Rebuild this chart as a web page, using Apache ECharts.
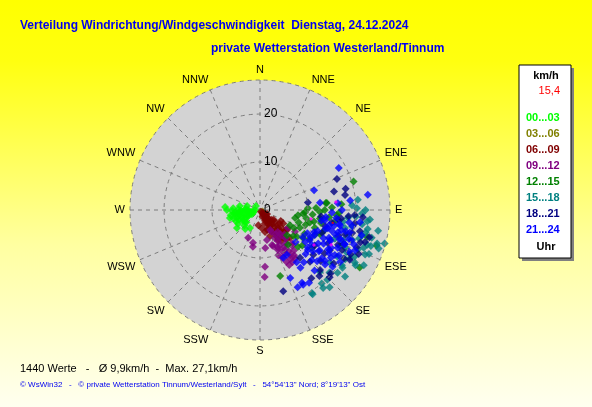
<!DOCTYPE html>
<html>
<head>
<meta charset="utf-8">
<script src="https://cdn.jsdelivr.net/npm/echarts@6/dist/echarts.min.js"></script>
<style>
  html, body { margin:0; padding:0; }
  #main { width:592px; height:407px; }
</style>
</head>
<body>
<div id="main"></div>
<script type="text/javascript">
// Himmelsrichtungen (Winkelachse)
var dirNames = ['N','NNE','NE','ENE','E','ESE','SE','SSE','S','SSW','SW','WSW','W','WNW','NW','NNW'];
// Zeitfenster (Legende)
var slotLabels = ['00...03','03...06','06...09','09...12','12...15','15...18','18...21','21...24'];
var slotColors = ['#00ff00','#808000','#800000','#800080','#008000','#008080','#000080','#0000ff'];

// Messwerte [km/h, Richtung in Grad]
var h00 = [[1.0,270],[2.1,259],[3.1,270],[4.2,264],[5.2,265],[4.1,246],[2.8,243],[5.1,251],[4.0,231],[5.4,238],
           [1.9,243],[5.6,274],[7.3,275],[6.5,255],[6.1,232],[5.0,218],[4.3,209],[6.9,270],[2.8,287],[4.3,281],
           [1.2,315],[3.5,258],[4.5,255],[2.5,262],[3.8,250],[5.0,260],[4.8,245],[3.0,248],[2.0,255],[5.8,252],[4.0,268],
           [1.5,265],[2.5,270],[3.5,265],[4.5,262],[5.5,262],[3.3,240],[4.2,238],[2.2,248],[1.5,250],[3.0,275],
           [4.5,272],[5.8,268],[6.2,260],[5.5,245],[3.8,228],[4.6,225]];
var h03 = [[0.6,120],[0.9,140],[1.2,135]];
var h06 = [[0.4,150],[1.2,149],[2.4,149],[2.4,135],[3.9,148],[3.5,135],[4.0,129],[5.4,148],[5.3,135],[4.9,118],
           [4.7,167],[3.8,174],[5.8,159],[6.8,138],[6.8,128],[7.3,149],[1.7,120],[3.2,186],[8.5,133],
           [1.8,140],[2.8,142],[3.2,130],[4.5,140],[5.8,138],[6.2,145],[4.2,155],[3.0,160],[2.0,150],[5.0,125],
           [6.0,130],[7.5,140],[0.8,130],[1.5,125],
           [1.0,140],[2.2,135],[3.0,145],[3.5,150],[4.0,143],[4.8,132],[5.5,143],[6.4,136],[7.0,133],[6.6,148],
           [7.8,145],[5.0,150],[3.5,125],[2.5,155],[1.5,160],[4.4,160],[8.2,138],[7.0,126],[5.6,120]];
var h09 = [[4.7,153],[6.6,152],[8.4,150],[9.8,148],[11.3,146],[5.9,141],[7.8,138],[9.6,136],[8.6,122],[6.9,123],
           [7.7,161],[6.4,167],[11.0,155],[12.8,148],[12.1,153],[11.9,175],[14.0,176],[6.3,203],[7.8,191],[7.0,192],
           [8.0,172],[7.0,145],[8.8,142],[10.5,150],[9.0,156],[6.0,147],[11.8,143],[12.0,148],[5.2,152],[8.0,160],[10.0,138],
           [6.5,140],[7.5,150],[8.5,155],[9.5,152],[10.5,145],[11.0,140],[12.5,144],[13.0,152],[7.2,135],[9.2,146],
           [8.0,138],[10.2,158]];
var h12 = [[20.4,73],[13.8,84],[11.7,88],[8.0,98],[25.4,107],[24.0,120],[23.0,104],[14.4,163],[7.0,117],[7.5,103],
           [9.1,114],[9.4,93],[10.7,104],[12.6,114],[10.7,123],[12.6,98],[13.5,90],[11.0,134],[15.8,99],[9.3,141],
           [13.4,126],[7.7,133],[11.0,95],[12.0,108],[9.8,100],[13.5,112],[10.5,118],[14.5,96],[16.0,94],[8.5,108],
           [9.0,95],[10.0,108],[11.5,102],[12.5,92],[13.0,102],[14.0,108],[8.0,118],[9.5,126],[11.5,130],[12.0,120],
           [15.0,88],[17.0,86],[14.0,84],[16.5,92],[10.0,88],[8.8,128]];
var h15 = [[20.5,84],[19.2,87],[20.2,89],[21.3,92],[23.0,95],[22.8,100],[25.4,106],[24.3,108],[26.9,105],[20.4,148],
           [21.7,138],[20.2,136],[20.8,129],[20.6,124],[21.3,118],[20.9,141],[20.7,148],[18.1,102],[20.2,108],[22.0,112],
           [18.2,114],[21.9,104],[16.7,111],[18.4,95],[18.2,127],[22.6,119],[23.8,113],
           [19.5,100],[21.5,106],[23.0,110],[20.0,116],[22.5,102],[18.8,121],[24.5,112],[21.0,125],[17.5,98],[19.0,106],
           [18.5,110],[19.5,114],[20.5,120],[22.0,116],[23.5,108],[24.0,104],[25.0,100],[21.5,98],[20.0,94],[22.5,96],
           [23.0,120],[22.5,128],[19.5,132],[18.0,136],[20.0,140],[24.5,118],[26.0,108],[22.0,90]];
var h18 = [[17.3,68],[18.4,76],[15.9,76],[18.0,80],[10.1,81],[22.9,107],[21.6,111],[17.6,164],[16.8,120],[18.5,106],
           [21.4,119],[17.7,135],[16.4,97],[19.8,93],[17.8,143],[20.2,134],[21.3,102],[13.0,140],[13.6,123],[19.0,116],
           [15.2,100],[17.8,114],[13.8,110],[19.8,104],[21.0,116],[16.2,124],[14.5,130],[18.5,94],[20.0,98],[22.0,108],[12.8,96],
           [14.0,104],[15.8,116],[17.2,108],[18.8,112],[20.2,120],[19.0,126],[16.5,130],[22.5,114],[23.5,104],[17.0,96],
           [21.5,94],[15.0,136],[18.5,138],[19.8,132]];
var h21 = [[18.6,62],[12.0,70],[22.7,82],[12.6,83],[16.3,85],[17.5,150],[10.9,149],[11.1,154],[13.3,145],
           [12.1,121],[12.2,112],[15.0,124],[13.7,99],[15.9,113],[18.2,121],[17.0,101],[19.1,112],[19.3,104],
           [15.0,134],[14.7,145],[17.7,130],[19.9,123],[21.5,113],[15.0,92],[17.1,90],[13.0,130],[16.3,128],[10.0,132],
           [16.9,106],[14.6,105],[17.0,138],[15.5,156],[18.0,150],[18.3,146],[17.9,154],[21.0,97],[18.9,84],
           [13.0,100],[14.2,106],[15.5,112],[16.8,118],[12.5,115],[14.0,120],[17.5,104],[18.0,110],[16.0,96],[19.5,108],
           [15.0,125],[17.2,128],[11.5,125],[20.5,115],[18.8,98],[14.8,102],[16.5,108],[19.0,120],
           [11.0,116],[12.0,118],[13.0,124],[14.0,128],[15.0,118],[16.0,114],[17.0,122],[18.0,116],[19.0,112],[20.0,108],
           [13.8,96],[14.5,114],[15.5,106],[16.8,100],[17.6,110],[18.4,104],[19.6,100],[12.8,110],[13.2,134],
           [14.2,140],[16.0,132],[17.8,124],[19.2,128],[20.8,110],[21.8,104],[15.8,102],[16.4,120],[12.6,128],[10.5,122]];
var seriesData = [h00, h03, h06, h09, h12, h15, h18, h21];
// Einzelmarkierungen (rosa) und aktueller Wert (rot)
var pinkPts = [[15.9,84],[10.8,100],[16.5,116],[13.4,123]];
var currentPt = [[15.4,100]];
var currentVal = '15,4';
var footerLine = '1440 Werte   -   \u00d8 9,9km/h  -  Max. 27,1km/h';
var creditLine = '\u00a9 WsWin32   -   \u00a9 private Wetterstation Tinnum/Westerland/Sylt   -   54\u00b054\'13" Nord; 8\u00b019\'13" Ost';
var maxSpeed = 27.1;

var chart = echarts.init(document.getElementById('main'));

var series = [];
for (var i = 0; i < seriesData.length; i++) {
    series.push({
        type: 'scatter',
        coordinateSystem: 'polar',
        symbol: 'diamond',
        symbolSize: 8,
        itemStyle: { color: slotColors[i] },
        data: seriesData[i],
        silent: true
    });
}
series.push({ type:'scatter', coordinateSystem:'polar', symbol:'diamond', symbolSize:4,
    itemStyle:{ color:'#ff00ff' }, data: pinkPts, silent:true });
series.push({ type:'scatter', coordinateSystem:'polar', symbol:'rect', symbolSize:2,
    itemStyle:{ color:'#ff0000' }, data: currentPt, silent:true });

// Hintergrundscheibe + Legende als Textkasten
var legendEls = [
    { type:'circle', z:-10, shape:{ cx:260, cy:210, r:130 }, style:{ fill:'#d3d3d3' } },
    { type:'rect', shape:{ x:522, y:68, width:52, height:193 }, style:{ fill:'#808080' } },
    { type:'rect', shape:{ x:519, y:65, width:52, height:193 }, style:{ fill:'#ffffff', stroke:'#000000', lineWidth:1 } },
    { type:'text', x:546, y:76, style:{ text:'km/h', fill:'#000', font:'bold 11px "Liberation Sans"', textAlign:'center', textVerticalAlign:'middle' } },
    { type:'text', x:560, y:91, style:{ text:currentVal, fill:'#ff0000', font:'11px "Liberation Sans"', textAlign:'right', textVerticalAlign:'middle' } },
    { type:'text', x:546, y:247, style:{ text:'Uhr', fill:'#000', font:'bold 11px "Liberation Sans"', textAlign:'center', textVerticalAlign:'middle' } }
];
for (var k = 0; k < slotLabels.length; k++) {
    legendEls.push({ type:'text', x:526, y:118 + k * 16,
        style:{ text:slotLabels[k], fill:slotColors[k], font:'bold 11px "Liberation Sans"', textVerticalAlign:'middle' } });
}

var option = {
    backgroundColor: {
        type:'linear', x:0, y:0, x2:0, y2:1,
        colorStops:[ {offset:0, color:'#ffff00'}, {offset:0.15, color:'#ffff10'}, {offset:0.6, color:'#ffffa0'}, {offset:1, color:'#fffff0'} ]
    },
    animation: false,
    polar: { center:[260, 210], radius:130 },
    angleAxis: {
        type:'value', min:0, max:360, interval:22.5,
        startAngle:90, clockwise:true,
        axisLine:{ show:false },
        axisTick:{ show:false },
        axisLabel:{ margin:5, color:'#000', fontSize:11, fontFamily:'Liberation Sans',
            formatter:function (v) { return dirNames[Math.round(v / 22.5) % 16]; } },
        splitLine:{ show:true, lineStyle:{ type:[4, 4], color:'#7d7d7d' } }
    },
    radiusAxis: {
        min:0, max:maxSpeed, interval:10, z:10,
        axisLine:{ show:false }, axisTick:{ show:false },
        axisLabel:{ color:'#000', fontSize:12, fontFamily:'Liberation Sans', align:'left', margin:-4,
            formatter:function (v) { return (v % 10 === 0) ? String(v) : ''; } },
        splitLine:{ show:true, lineStyle:{ type:[4, 4], color:'#7d7d7d' } },
        splitArea:{ show:false }
    },
    title: [
        { text:'Verteilung Windrichtung/Windgeschwindigkeit  Dienstag, 24.12.2024', left:20, top:20, padding:0,
          textStyle:{ color:'#0000f0', fontSize:12, fontWeight:'bold', fontFamily:'Liberation Sans' } },
        { text:'private Wetterstation Westerland/Tinnum', left:211, top:43, padding:0,
          textStyle:{ color:'#0000f0', fontSize:12, fontWeight:'bold', fontFamily:'Liberation Sans' } },
        { text:footerLine, left:20, top:363, padding:0,
          textStyle:{ color:'#000', fontSize:11, fontWeight:'normal', fontFamily:'Liberation Sans' } },
        { text:creditLine, left:20, top:381, padding:0,
          textStyle:{ color:'#0000f0', fontSize:8, fontWeight:'normal', fontFamily:'Liberation Sans' } }
    ],
    graphic: { elements: legendEls },
    series: series
};
chart.setOption(option);
</script>
</body>
</html>
